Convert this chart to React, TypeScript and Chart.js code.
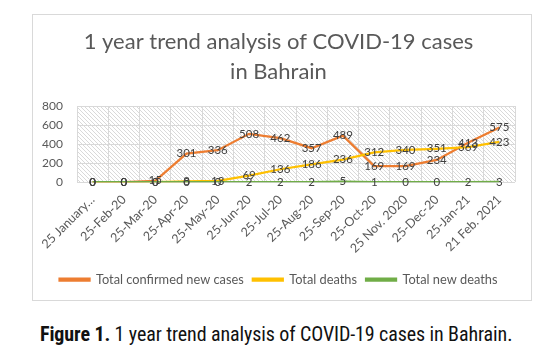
import React, { useEffect, useRef } from "react";
import { Chart, registerables } from "chart.js";

Chart.register(...registerables);

const categories = [
  "25 January…",
  "25-Feb-20",
  "25-Mar-20",
  "25-Apr-20",
  "25-May-20",
  "25-Jun-20",
  "25-Jul-20",
  "25-Aug-20",
  "25-Sep-20",
  "25-Oct-20",
  "25 Nov. 2020",
  "25-Dec-20",
  "25-Jan-21",
  "21 Feb. 2021",
];
const confirmedNewCases = [0, 0, 15, 301, 336, 508, 462, 357, 489, 169, 169, 234, 413, 575];
const totalDeaths = [0, 0, 0, 8, 13, 69, 136, 186, 236, 312, 340, 351, 369, 423];
const totalNewDeaths = [0, 0, 0, 0, 0, 2, 2, 2, 5, 1, 0, 0, 2, 3];
const yTicks = [0, 200, 400, 600, 800];

const FONT = "Lato, 'Open Sans', sans-serif";
const GREY = "#595959";

function makePattern(): CanvasPattern | string {
  const c = document.createElement("canvas");
  c.width = 4;
  c.height = 4;
  const ctx = c.getContext("2d");
  if (!ctx) return "#eeeeee";
  ctx.fillStyle = "#ffffff";
  ctx.fillRect(0, 0, 4, 4);
  ctx.fillStyle = "#d9d9d9";
  for (let i = 0; i < 4; i++) ctx.fillRect(i, i, 1, 1);
  return ctx.createPattern(c, "repeat") || "#eeeeee";
}

const bgPlugin = {
  id: "hatchBg",
  beforeDraw(chart: any) {
    const { ctx, chartArea } = chart;
    if (!chartArea) return;
    ctx.save();
    ctx.fillStyle = makePattern();
    ctx.fillRect(chartArea.left, chartArea.top, chartArea.right - chartArea.left, chartArea.bottom - chartArea.top);
    ctx.restore();
  },
};

const labelPlugin = {
  id: "valueLabels",
  afterDatasetsDraw(chart: any) {
    const { ctx } = chart;
    ctx.save();
    ctx.font = `11.5px ${FONT}`;
    ctx.fillStyle = "#404040";
    ctx.textAlign = "center";
    ctx.textBaseline = "middle";
    chart.data.datasets.forEach((ds: any, i: number) => {
      const meta = chart.getDatasetMeta(i);
      meta.data.forEach((pt: any, j: number) => {
        ctx.fillText(String(ds.data[j]), pt.x, pt.y);
      });
    });
    ctx.restore();
  },
};

export default function App() {
  const ref = useRef<HTMLCanvasElement | null>(null);

  useEffect(() => {
    if (!ref.current) return;
    const chart = new Chart(ref.current, {
      type: "line",
      data: {
        labels: categories,
        datasets: [
          {
            label: "Total confirmed new cases",
            data: confirmedNewCases,
            borderColor: "#ED7D31",
            backgroundColor: "#ED7D31",
            borderWidth: 2.25,
            pointRadius: 0,
            order: 3,
          },
          {
            label: "Total deaths",
            data: totalDeaths,
            borderColor: "#FFC000",
            backgroundColor: "#FFC000",
            borderWidth: 2.25,
            pointRadius: 0,
            order: 2,
          },
          {
            label: "Total new deaths",
            data: totalNewDeaths,
            borderColor: "#70AD47",
            backgroundColor: "#70AD47",
            borderWidth: 2.25,
            pointRadius: 0,
            order: 1,
          },
        ],
      },
      options: {
        responsive: false,
        animation: false,
        layout: { padding: { left: 10, right: 17, top: 3, bottom: 5 } },
        plugins: {
          tooltip: { enabled: false },
          title: {
            display: true,
            text: ["1 year trend analysis of COVID-19 cases", "in Bahrain"],
            color: GREY,
            font: { family: FONT, size: 22, weight: "normal", lineHeight: 30 / 22 },
            padding: { top: 10, bottom: 19 },
          },
          legend: {
            position: "bottom",
            labels: {
              color: GREY,
              font: { family: FONT, size: 12.8 },
              boxWidth: 30,
              boxHeight: 2,
              padding: 9,
              sort: (a: any, b: any) => a.datasetIndex - b.datasetIndex,
            },
          },
        },
        scales: {
          x: {
            offset: true,
            grid: { color: "#d9d9d9", offset: true, drawTicks: false },
            border: { display: false },
            ticks: {
              color: GREY,
              font: { family: FONT, size: 12.5 },
              maxRotation: 45,
              minRotation: 45,
              autoSkip: false,
              padding: 10,
            },
            afterFit(scale: any) {
              scale.height = 82;
            },
          },
          y: {
            min: 0,
            max: 800,
            grid: { color: "#d9d9d9", drawTicks: false },
            border: { display: false },
            afterBuildTicks(scale: any) {
              scale.ticks = yTicks.map((v) => ({ value: v }));
            },
            ticks: {
              color: GREY,
              font: { family: FONT, size: 12 },
              padding: 14,
            },
            afterFit(scale: any) {
              scale.width = 35;
            },
          },
        },
      },
      plugins: [bgPlugin, labelPlugin],
    });
    return () => chart.destroy();
  }, []);

  return (
    <div style={{ position: "fixed", left: 0, top: 0, width: 540, height: 350, background: "#fff" }}>
      <div
        style={{
          position: "absolute",
          left: 32,
          top: 14,
          width: 500,
          height: 287,
          border: "1px solid #d9d9d9",
          boxSizing: "border-box",
        }}
      />
      <canvas
        ref={ref}
        width={500}
        height={287}
        style={{ position: "absolute", left: 32, top: 14, width: 500, height: 287 }}
      />
      <div
        style={{
          position: "absolute",
          left: 40,
          top: 322,
          fontFamily: "'Liberation Sans Narrow', 'Arial Narrow', 'Roboto Condensed', sans-serif",
          fontSize: 20,
          color: "#111",
          whiteSpace: "nowrap",
          lineHeight: "24px",
          letterSpacing: "-0.1px",
        }}
      >
        <b>Figure 1.</b> 1 year trend analysis of COVID-19 cases in Bahrain.
      </div>
    </div>
  );
}
